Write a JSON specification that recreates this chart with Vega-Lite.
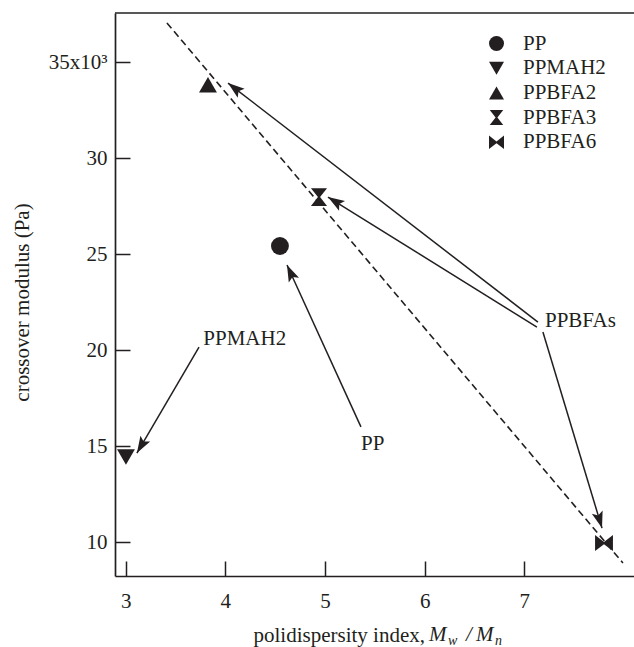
{
  "$schema": "https://vega.github.io/schema/vega-lite/v6.json",
  "width": 519,
  "height": 563,
  "autosize": {"type": "none"},
  "padding": {"left": 115, "top": 13, "right": 0, "bottom": 71},
  "background": "white",
  "config": {
    "view": {"stroke": null},
    "font": "Liberation Serif",
    "text": {"font": "Liberation Serif", "fontSize": 21, "color": "#231f20"},
    "axis": {
      "labelFont": "Liberation Serif",
      "titleFont": "Liberation Serif",
      "labelFontSize": 21,
      "titleFontSize": 21,
      "labelColor": "#231f20",
      "titleColor": "#231f20",
      "titleFontWeight": "normal",
      "domainColor": "#231f20",
      "domainWidth": 1.7,
      "tickColor": "#231f20",
      "tickWidth": 1.5,
      "grid": false
    },
    "legend": {
      "labelFont": "Liberation Serif",
      "titleFont": "Liberation Serif"
    }
  },
  "datasets": {
    "samples": [
      {"sample": "PP", "pdi": 4.548, "modulus": 25.43},
      {"sample": "PPMAH2", "pdi": 3.003, "modulus": 14.44},
      {"sample": "PPBFA2", "pdi": 3.826, "modulus": 33.83},
      {"sample": "PPBFA3", "pdi": 4.94, "modulus": 27.98},
      {"sample": "PPBFA6", "pdi": 7.8, "modulus": 9.96}
    ],
    "trend": [
      {"x1": 3.414, "y1": 37.05, "x2": 7.99, "y2": 8.92}
    ],
    "arrows": [
      {"label": "PPMAH2", "x1": 3.736, "y1": 20.17, "x2": 3.113, "y2": 14.65},
      {"label": "PP", "x1": 5.361, "y1": 16.01, "x2": 4.619, "y2": 24.44},
      {"label": "PPBFAs", "x1": 7.137, "y1": 21.47, "x2": 4.027, "y2": 33.92},
      {"label": "PPBFAs", "x1": 7.127, "y1": 21.21, "x2": 5.03, "y2": 27.98},
      {"label": "PPBFAs", "x1": 7.187, "y1": 20.95, "x2": 7.78, "y2": 10.74}
    ],
    "labels": [
      {"text": "PPMAH2", "x": 3.779, "y": 20.28},
      {"text": "PP", "x": 5.361, "y": 14.81},
      {"text": "PPBFAs", "x": 7.208, "y": 21.21}
    ]
  },
  "layer": [
    {
      "data": {"name": "trend"},
      "mark": {"type": "rule", "color": "#231f20", "strokeWidth": 1.6, "strokeDash": [7, 4]},
      "encoding": {
        "x": {
          "field": "x1", "type": "quantitative",
          "scale": {"domain": [2.893, 8.101], "nice": false, "zero": false},
          "axis": {
            "orient": "bottom",
            "values": [3, 4, 5, 6, 7],
            "format": "d",
            "tickSize": -15,
            "labelPadding": 29,
            "title": "polidispersity index,",
            "titleAlign": "left",
            "titleAnchor": "start",
            "titleBaseline": "alphabetic",
            "titleX": 138,
            "titleY": 65
          }
        },
        "y": {
          "field": "y1", "type": "quantitative",
          "scale": {"domain": [8.245, 37.568], "nice": false, "zero": false},
          "axis": {
            "values": [10, 15, 20, 25, 30, 35],
            "format": "d",
            "tickSize": -15,
            "labelPadding": 23,
            "labelExpr": "datum.value == 35 ? '35x10³' : datum.label",
            "title": "crossover modulus (Pa)",
            "titleAngle": -90,
            "titleAlign": "center",
            "titleBaseline": "middle",
            "titleX": -93,
            "titleY": 289
          }
        },
        "x2": {"field": "x2"},
        "y2": {"field": "y2"}
      }
    },
    {
      "description": "top frame line",
      "data": {"values": [{}]},
      "mark": {"type": "rule", "color": "#231f20", "strokeWidth": 1.7},
      "encoding": {"y": {"datum": 37.568}}
    },
    {
      "data": {"name": "arrows"},
      "mark": {"type": "rule", "color": "#231f20", "strokeWidth": 1.5},
      "encoding": {
        "x": {"field": "x1", "type": "quantitative"},
        "y": {"field": "y1", "type": "quantitative"},
        "x2": {"field": "x2"},
        "y2": {"field": "y2"}
      }
    },
    {
      "data": {"name": "arrows"},
      "transform": [
        {"calculate": "atan2((datum.x2 - datum.x1) * 99.65, (datum.y2 - datum.y1) * 19.2) * 180 / PI", "as": "heading"}
      ],
      "mark": {
        "type": "point",
        "shape": "M0,0L0.34,1L0,0.8L-0.34,1Z",
        "filled": true,
        "color": "#231f20",
        "opacity": 1,
        "size": 1100
      },
      "encoding": {
        "x": {"field": "x2", "type": "quantitative"},
        "y": {"field": "y2", "type": "quantitative"},
        "angle": {"field": "heading", "type": "quantitative", "scale": null}
      }
    },
    {
      "data": {"name": "labels"},
      "mark": {"type": "text", "font": "Liberation Serif", "fontSize": 21, "align": "left", "baseline": "alphabetic"},
      "encoding": {
        "x": {"field": "x", "type": "quantitative"},
        "y": {"field": "y", "type": "quantitative"},
        "text": {"field": "text"}
      }
    },
    {
      "data": {"name": "samples"},
      "mark": {"type": "point", "filled": true, "color": "#231f20", "opacity": 1, "size": 320},
      "encoding": {
        "x": {"field": "pdi", "type": "quantitative"},
        "y": {"field": "modulus", "type": "quantitative"},
        "shape": {
          "field": "sample",
          "type": "nominal",
          "scale": {
            "domain": ["PP", "PPMAH2", "PPBFA2", "PPBFA3", "PPBFA6"],
            "range": [
              "circle",
              "triangle-down",
              "triangle-up",
              "M-0.9,-1L0.9,-1L0.12,0L0.9,1L-0.9,1L-0.12,0Z",
              "M-1,-0.9L0,-0.12L1,-0.9L1,0.9L0,0.12L-1,0.9Z"
            ]
          },
          "legend": {
            "title": null,
            "orient": "none",
            "legendX": 371,
            "legendY": 20,
            "padding": 0,
            "symbolSize": 225,
            "symbolFillColor": "#231f20",
            "symbolStrokeWidth": 0,
            "symbolOpacity": 1,
            "labelFont": "Liberation Serif",
            "labelFontSize": 21,
            "labelColor": "#231f20",
            "labelOffset": 16,
            "rowPadding": 2.7
          }
        }
      }
    },
    {
      "data": {"values": [{}]},
      "mark": {"type": "text", "text": "M", "font": "Liberation Serif", "fontSize": 21, "fontStyle": "italic", "align": "left", "baseline": "alphabetic"},
      "encoding": {"x": {"datum": 6.044}, "y": {"datum": 4.859}}
    },
    {
      "data": {"values": [{}]},
      "mark": {"type": "text", "text": "w", "font": "Liberation Serif", "fontSize": 14, "fontStyle": "italic", "align": "left", "baseline": "alphabetic"},
      "encoding": {"x": {"datum": 6.234}, "y": {"datum": 4.651}}
    },
    {
      "data": {"values": [{}]},
      "mark": {"type": "text", "text": "/", "font": "Liberation Serif", "fontSize": 21, "fontStyle": "italic", "align": "left", "baseline": "alphabetic"},
      "encoding": {"x": {"datum": 6.415}, "y": {"datum": 4.859}}
    },
    {
      "data": {"values": [{}]},
      "mark": {"type": "text", "text": "M", "font": "Liberation Serif", "fontSize": 21, "fontStyle": "italic", "align": "left", "baseline": "alphabetic"},
      "encoding": {"x": {"datum": 6.515}, "y": {"datum": 4.859}}
    },
    {
      "data": {"values": [{}]},
      "mark": {"type": "text", "text": "n", "font": "Liberation Serif", "fontSize": 14, "fontStyle": "italic", "align": "left", "baseline": "alphabetic"},
      "encoding": {"x": {"datum": 6.706}, "y": {"datum": 4.651}}
    }
  ]
}
